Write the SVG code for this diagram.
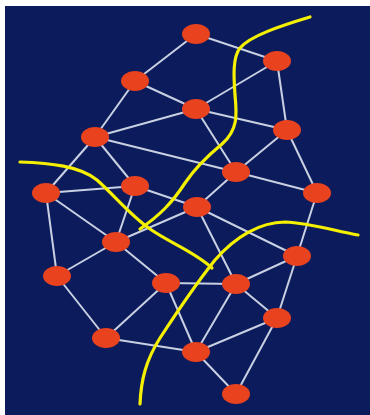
<svg xmlns="http://www.w3.org/2000/svg" width="370" height="415" viewBox="0 0 370 415">
<style>
.e{stroke:#c9d0e2;stroke-width:2;fill:none}
.n{fill:#e8421e}
.y{stroke:#f4f000;stroke-width:3.2;fill:none;stroke-linecap:round}
</style>
<rect width="370" height="415" fill="#ffffff"/>
<rect x="5" y="6" width="365" height="409" fill="#0b1b5c"/>
<g id="connectors">
<line class="e" x1="196" y1="34" x2="135" y2="81"/>
<line class="e" x1="196" y1="34" x2="277" y2="61"/>
<line class="e" x1="135" y1="81" x2="196" y2="109"/>
<line class="e" x1="135" y1="81" x2="95" y2="137"/>
<line class="e" x1="95" y1="137" x2="196" y2="109"/>
<line class="e" x1="277" y1="61" x2="196" y2="109"/>
<line class="e" x1="277" y1="61" x2="287" y2="130"/>
<line class="e" x1="196" y1="109" x2="287" y2="130"/>
<line class="e" x1="196" y1="109" x2="236" y2="172"/>
<line class="e" x1="95" y1="137" x2="236" y2="172"/>
<line class="e" x1="95" y1="137" x2="135" y2="186"/>
<line class="e" x1="95" y1="137" x2="46" y2="193"/>
<line class="e" x1="46" y1="193" x2="135" y2="186"/>
<line class="e" x1="46" y1="193" x2="57" y2="276"/>
<line class="e" x1="46" y1="193" x2="116" y2="242"/>
<line class="e" x1="135" y1="186" x2="116" y2="242"/>
<line class="e" x1="135" y1="186" x2="197" y2="207"/>
<line class="e" x1="236" y1="172" x2="197" y2="207"/>
<line class="e" x1="287" y1="130" x2="236" y2="172"/>
<line class="e" x1="287" y1="130" x2="317" y2="193"/>
<line class="e" x1="236" y1="172" x2="317" y2="193"/>
<line class="e" x1="317" y1="193" x2="297" y2="256"/>
<line class="e" x1="197" y1="207" x2="116" y2="242"/>
<line class="e" x1="197" y1="207" x2="236" y2="284"/>
<line class="e" x1="197" y1="207" x2="297" y2="256"/>
<line class="e" x1="116" y1="242" x2="166" y2="283"/>
<line class="e" x1="116" y1="242" x2="57" y2="276"/>
<line class="e" x1="57" y1="276" x2="106" y2="338"/>
<line class="e" x1="106" y1="338" x2="166" y2="283"/>
<line class="e" x1="106" y1="338" x2="196" y2="352"/>
<line class="e" x1="166" y1="283" x2="196" y2="352"/>
<line class="e" x1="166" y1="283" x2="236" y2="284"/>
<line class="e" x1="236" y1="284" x2="297" y2="256"/>
<line class="e" x1="236" y1="284" x2="196" y2="352"/>
<line class="e" x1="236" y1="284" x2="277" y2="318"/>
<line class="e" x1="277" y1="318" x2="297" y2="256"/>
<line class="e" x1="277" y1="318" x2="196" y2="352"/>
<line class="e" x1="277" y1="318" x2="236" y2="394"/>
<line class="e" x1="196" y1="352" x2="236" y2="394"/>
</g>
<g id="nodes">
<ellipse id="nA" class="n" cx="196" cy="34" rx="14" ry="10"/>
<ellipse id="nB" class="n" cx="277" cy="61" rx="14" ry="10"/>
<ellipse id="nC" class="n" cx="135" cy="81" rx="14" ry="10"/>
<ellipse id="nD" class="n" cx="196" cy="109" rx="14" ry="10"/>
<ellipse id="nE" class="n" cx="287" cy="130" rx="14" ry="10"/>
<ellipse id="nF" class="n" cx="95" cy="137" rx="14" ry="10"/>
<ellipse id="nG" class="n" cx="236" cy="172" rx="14" ry="10"/>
<ellipse id="nH" class="n" cx="46" cy="193" rx="14" ry="10"/>
<ellipse id="nI" class="n" cx="135" cy="186" rx="14" ry="10"/>
<ellipse id="nJ" class="n" cx="317" cy="193" rx="14" ry="10"/>
<ellipse id="nK" class="n" cx="197" cy="207" rx="14" ry="10"/>
<ellipse id="nL" class="n" cx="116" cy="242" rx="14" ry="10"/>
<ellipse id="nM" class="n" cx="297" cy="256" rx="14" ry="10"/>
<ellipse id="nN" class="n" cx="57" cy="276" rx="14" ry="10"/>
<ellipse id="nO" class="n" cx="166" cy="283" rx="14" ry="10"/>
<ellipse id="nP" class="n" cx="236" cy="284" rx="14" ry="10"/>
<ellipse id="nQ" class="n" cx="277" cy="318" rx="14" ry="10"/>
<ellipse id="nR" class="n" cx="106" cy="338" rx="14" ry="10"/>
<ellipse id="nS" class="n" cx="196" cy="352" rx="14" ry="10"/>
<ellipse id="nT" class="n" cx="236" cy="394" rx="14" ry="10"/>
</g>
<g id="cuts">
<path class="y" d="M310,17 C280,26 250,36 240,48 C232,58 234,80 235,95 C237,115 238,130 222,144 C205,158 195,168 185,183 C172,203 160,215 140,229"/>
<path class="y" d="M20,162 C50,163 80,166 97,180 C115,196 130,215 150,229 C170,243 195,252 212,268"/>
<path class="y" d="M140,404 C141,380 146,360 160,338 C175,315 195,285 215,260 C235,237 260,222 285,222 C310,223 335,231 358,235"/>
</g>
</svg>
